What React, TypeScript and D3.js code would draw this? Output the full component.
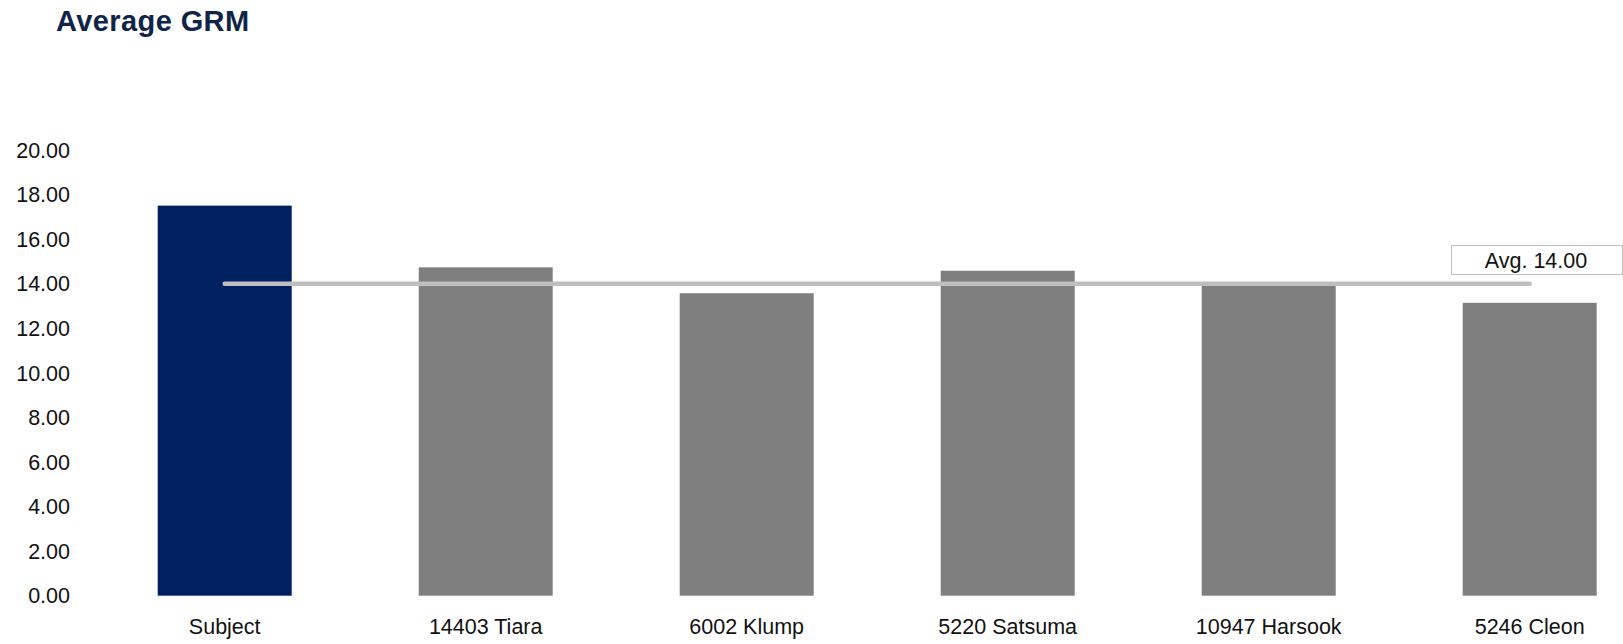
import React from "react";
import * as d3 from "d3";

// Average GRM by property: the subject plus five comparables
const categories: string[] = [
  "Subject",
  "14403 Tiara",
  "6002 Klump",
  "5220 Satsuma",
  "10947 Harsook",
  "5246 Cleon",
];
const grmValues: number[] = [17.5, 14.73, 13.57, 14.58, 13.9, 13.14];
const averageValue = 14.0;
const averageLabel = "Avg. 14.00";
const yTicks: number[] = [0, 2, 4, 6, 8, 10, 12, 14, 16, 18, 20];

const WIDTH = 1623;
const HEIGHT = 644;
const FONT = "'Liberation Sans', Arial, sans-serif";

export default function App() {
  const x = d3
    .scaleBand<string>()
    .domain(categories)
    .range([94.2, 1660.2])
    .paddingInner(0.4866)
    .paddingOuter(0.2433);

  const y = d3.scaleLinear().domain([0, 20]).range([595.7, 149.9]);

  const first = categories[0];
  const last = categories[categories.length - 1];
  const avgX1 = (x(first) ?? 0) + x.bandwidth() / 2;
  const avgX2 = (x(last) ?? 0) + x.bandwidth() / 2;
  const avgY = y(averageValue);

  return (
    <div style={{ position: "fixed", left: 0, top: 0, width: WIDTH, height: HEIGHT, background: "#fff" }}>
      <svg width={WIDTH} height={HEIGHT} style={{ display: "block" }}>
        <rect width={WIDTH} height={HEIGHT} fill="#ffffff" />
        <text
          x={56}
          y={30.5}
          fontFamily={FONT}
          fontWeight={700}
          fontSize={29}
          letterSpacing={0.4}
          fill="#0f2447"
        >
          Average GRM
        </text>

        {yTicks.map((t) => (
          <text
            key={t}
            x={70}
            y={y(t)}
            dy="0.36em"
            textAnchor="end"
            fontFamily={FONT}
            fontSize={21.5}
            fill="#111111"
          >
            {d3.format(".2f")(t)}
          </text>
        ))}

        {categories.map((c, i) => (
          <rect
            key={c}
            x={x(c)}
            y={y(grmValues[i])}
            width={x.bandwidth()}
            height={y(0) - y(grmValues[i])}
            fill={i === 0 ? "#002060" : "#7f7f7f"}
          />
        ))}

        {categories.map((c) => (
          <text
            key={c}
            x={(x(c) ?? 0) + x.bandwidth() / 2}
            y={634}
            textAnchor="middle"
            fontFamily={FONT}
            fontSize={21.5}
            fill="#111111"
          >
            {c}
          </text>
        ))}

        <line
          x1={avgX1}
          x2={avgX2}
          y1={avgY}
          y2={avgY}
          stroke="#bfbfbf"
          strokeWidth={4.5}
          strokeLinecap="round"
        />

        <rect x={1451.5} y={245.5} width={171} height={29} fill="#ffffff" stroke="#bfbfbf" strokeWidth={1} />
        <text
          x={1536}
          y={260}
          dy="0.36em"
          textAnchor="middle"
          fontFamily={FONT}
          fontSize={21.5}
          fill="#111111"
        >
          {averageLabel}
        </text>
      </svg>
    </div>
  );
}
